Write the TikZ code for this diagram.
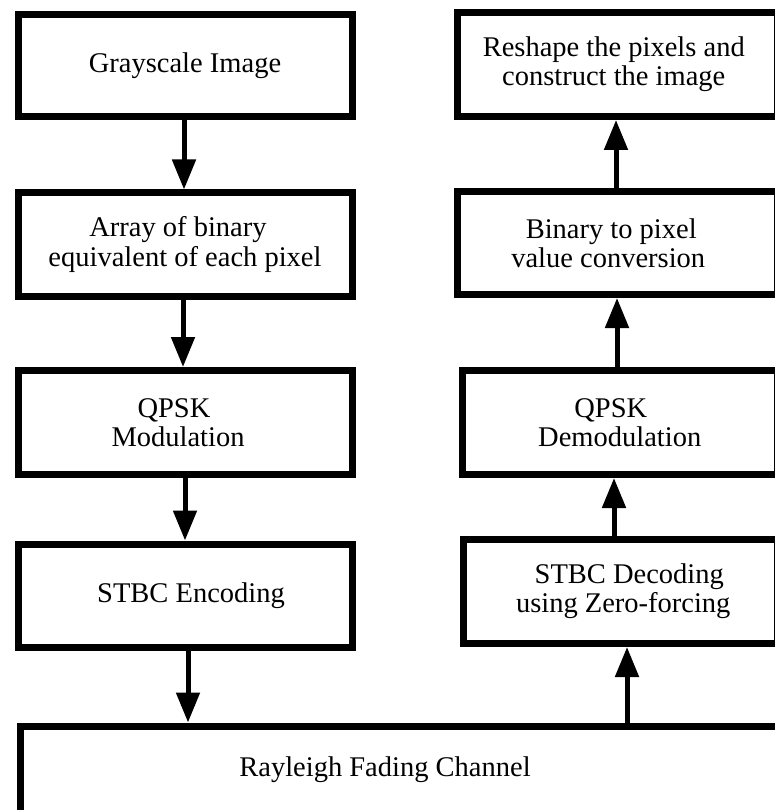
\documentclass[tikz,border=0pt]{standalone}
\usepackage{fontspec}
\setmainfont{Liberation Serif}
\usetikzlibrary{arrows.meta}
\begin{document}
\begin{tikzpicture}[x=1pt,y=-1pt,
  stage/.style={draw, line width=7pt, inner sep=0pt, align=center,
    font=\fontsize{28.5pt}{29pt}\selectfont},
  caption/.style={inner sep=0pt, font=\fontsize{28.5pt}{29pt}\selectfont},
  flow/.style={line width=5pt, -{Triangle[length=30pt,width=23pt]}}]
\useasboundingbox[fill=white] (0,0) rectangle (774,810);

% transmitter chain (left column)
\node[stage, minimum width=334pt, minimum height=102pt] (gray) at (185,66)
  {Grayscale Image};
\node[stage, minimum width=334pt, minimum height=103pt] (array) at (185,244.5)
  {Array of binary\hspace*{14pt}\\equivalent of each pixel};
\node[stage, minimum width=334pt, minimum height=104pt] (qpsk) at (185,422.5)
  {QPSK\hspace*{22pt}\\Modulation\hspace*{14pt}};
\node[stage, minimum width=334pt, minimum height=103pt] (enc) at (185,595.5)
  {\hspace*{12pt}STBC Encoding};

% channel
\node[stage, minimum width=800pt, minimum height=110pt, anchor=north west]
  (chan) at (16.5,722.5) {};
\node[caption] (chanlabel) at (385,770) {Rayleigh Fading Channel};

% receiver chain (right column)
\node[stage, minimum width=319.5pt, minimum height=104pt] (reshape) at (617.25,64.5)
  {Reshape the pixels and\hspace*{7pt}\\construct the image\hspace*{7pt}};
\node[stage, minimum width=319.5pt, minimum height=103pt] (binary) at (617.25,243)
  {Binary to pixel\hspace*{12pt}\\value conversion\hspace*{18pt}};
\node[stage, minimum width=314.5pt, minimum height=104pt] (demod) at (619.75,422.5)
  {QPSK\hspace*{18pt}\\Demodulation};
\node[stage, minimum width=313.5pt, minimum height=104pt] (dec) at (620.25,591.5)
  {\hspace*{18pt}STBC Decoding\\\hspace*{6pt}using Zero-forcing};

% connectors
\draw[flow] (gray.south -| 184,0) -- (array.north -| 184,0);
\draw[flow] (array.south -| 183,0) -- (qpsk.north -| 183,0);
\draw[flow] (qpsk.south -| 185,0) -- (enc.north -| 185,0);
\draw[flow] (enc.south -| 188,0) -- (chan.north -| 188,0);
\draw[flow] (chan.north -| 627,0) -- (dec.south -| 627,0);
\draw[flow] (dec.north -| 614,0) -- (demod.south -| 614,0);
\draw[flow] (demod.north -| 617,0) -- (binary.south -| 617,0);
\draw[flow] (binary.north -| 616,0) -- (reshape.south -| 616,0);
\end{tikzpicture}
\end{document}
